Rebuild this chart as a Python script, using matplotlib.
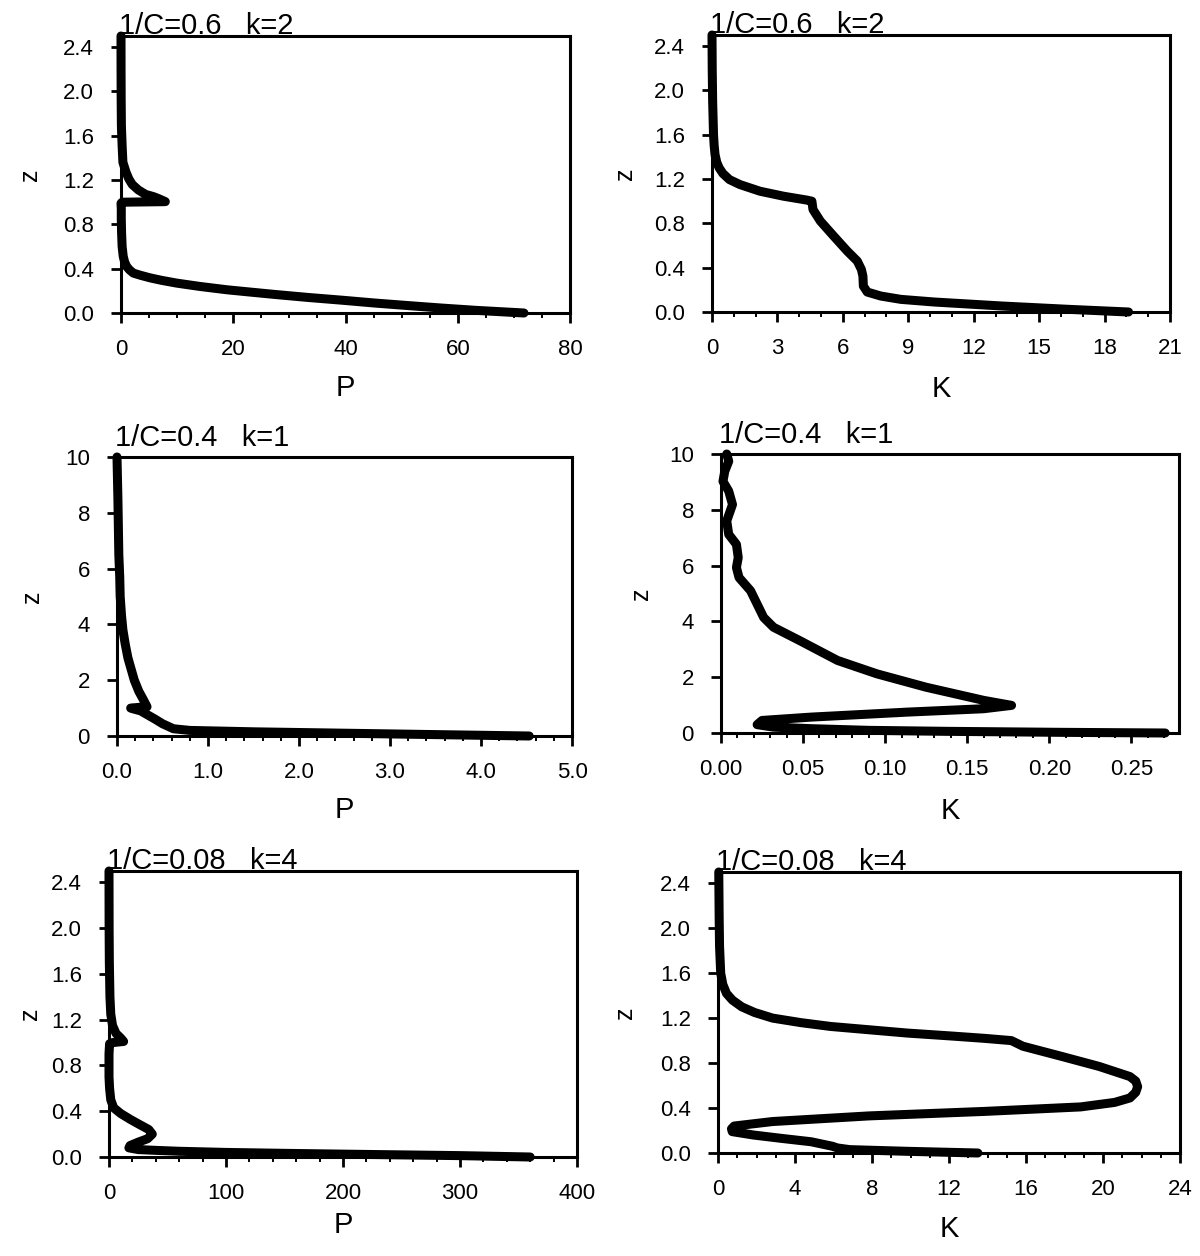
import matplotlib
matplotlib.use("Agg")
import matplotlib.pyplot as plt
from matplotlib.ticker import MultipleLocator, FormatStrFormatter

plt.rcParams['font.family'] = ['Liberation Sans', 'DejaVu Sans']

# ---------------- data ----------------
titles = ["1/C=0.6   k=2", "1/C=0.6   k=2", "1/C=0.4   k=1", "1/C=0.4   k=1",
          "1/C=0.08   k=4", "1/C=0.08   k=4"]
xlabels = ["P", "K", "P", "K", "P", "K"]

# panel 1: P, 1/C=0.6 k=2
z1 = [0, 0.024, 0.045, 0.066, 0.09, 0.115, 0.14, 0.166, 0.19, 0.21, 0.24, 0.27, 0.295,
      0.317, 0.34, 0.36, 0.39, 0.42, 0.46, 0.51, 0.6, 0.73, 0.85, 0.94, 0.99, 1.0,
      1.005, 1.03, 1.05, 1.07, 1.11, 1.16, 1.21, 1.27, 1.36, 1.51, 1.69, 1.93, 2.2, 2.5]
p1 = [71.8, 63.2, 57, 51.4, 45.2, 39.5, 33.4, 27.7, 22.8, 18.8, 14, 9.9, 7.2,
      5.2, 3.5, 2.2, 1.5, 1.0, 0.65, 0.4, 0.2, 0.1, 0.05, 0.05, 0.0, 0.2,
      7.9, 6.8, 5.8, 4.4, 3.1, 2.0, 1.4, 0.9, 0.34, 0.2, 0.07, 0.03, 0.01, 0.0]

# panel 2: K, 1/C=0.6 k=2
z2 = [0, 0.024, 0.054, 0.09, 0.114, 0.144, 0.18, 0.234, 0.324, 0.384, 0.46, 0.55,
      0.685, 0.82, 0.925, 1.0, 1.01, 1.045, 1.09, 1.15, 1.195, 1.25, 1.3, 1.35, 1.42,
      1.5, 1.6, 1.75, 1.9, 2.2, 2.5]
k2 = [19.1, 16.35, 13.3, 10.2, 8.66, 7.74, 7.12, 6.94, 6.92, 6.85, 6.66, 6.2,
      5.58, 4.97, 4.63, 4.58, 4.35, 3.28, 2.2, 1.28, 0.8, 0.5, 0.33, 0.22, 0.14,
      0.1, 0.07, 0.05, 0.03, 0.01, 0.0]

# panel 3: P, 1/C=0.4 k=1
z3 = [0, 0.05, 0.1, 0.15, 0.2, 0.26, 0.35, 0.44, 0.6, 0.75, 0.9, 0.98, 1.0, 1.05,
      1.3, 1.6, 2.0, 2.4, 2.8, 3.3, 3.8, 4.3, 5.0, 5.7, 6.5, 7.5, 8.5, 10]
p3 = [4.53, 3.5, 2.5, 1.5, 0.8, 0.62, 0.56, 0.5, 0.42, 0.34, 0.26, 0.17, 0.15, 0.33,
      0.29, 0.24, 0.19, 0.155, 0.12, 0.09, 0.065, 0.05, 0.035, 0.03, 0.02, 0.015, 0.01, 0.0]

# panel 4: K, 1/C=0.4 k=1
z4 = [0, 0.024, 0.06, 0.095, 0.155, 0.21, 0.3, 0.45, 0.57, 0.75, 0.87, 0.99, 1.17,
      1.64, 2.12, 2.6, 3.31, 3.79, 4.14, 4.62, 5.1, 5.57, 5.93, 6.29, 6.76, 7.12, 7.6,
      8.19, 8.67, 9.02, 9.38, 9.74, 10]
k4 = [0.2706, 0.207, 0.137, 0.090, 0.055, 0.032, 0.022, 0.025, 0.055, 0.114, 0.16,
      0.177, 0.16, 0.125, 0.095, 0.071, 0.048, 0.032, 0.026, 0.022, 0.018, 0.011,
      0.0094, 0.0105, 0.0094, 0.0047, 0.0035, 0.007, 0.0047, 0.0012, 0.0023, 0.0047, 0.0035]

# panel 5: P, 1/C=0.08 k=4
z5 = [0, 0.012, 0.025, 0.032, 0.04, 0.05, 0.058, 0.065, 0.08, 0.1, 0.13, 0.16, 0.2,
      0.24, 0.29, 0.33, 0.38, 0.43, 0.5, 0.6, 0.7, 0.9, 0.99, 1.0, 1.01, 1.04, 1.08,
      1.15, 1.25, 1.4, 1.7, 2.0, 2.5]
p5 = [360, 300, 200, 150, 100, 60, 40, 25, 17, 18, 25, 33, 37,
      34, 25, 18, 10, 4, 1.5, 0.5, 0, 0, 0.5, 3, 12.5, 10, 6,
      3, 1.5, 0.8, 0.3, 0.1, 0]

# panel 6: K, 1/C=0.08 k=4
z6 = [0, 0.015, 0.03, 0.045, 0.06, 0.1, 0.13, 0.16, 0.19, 0.215, 0.24, 0.28, 0.33,
      0.37, 0.41, 0.45, 0.49, 0.54, 0.59, 0.64, 0.68, 0.77, 0.86, 0.95, 1.0, 1.02,
      1.04, 1.067, 1.1, 1.126, 1.16, 1.2, 1.25, 1.3, 1.36, 1.42, 1.5, 1.6, 1.84, 2.1, 2.5]
k6 = [13.5, 9.84, 6.84, 6.2, 5.94, 4.84, 3.3, 1.84, 0.74, 0.7, 0.84, 2.84, 7.84,
      13.84, 18.84, 20.6, 21.4, 21.7, 21.8, 21.7, 21.4, 19.8, 17.84, 15.84, 15.24, 13.84,
      12.2, 9.84, 7.6, 5.84, 4.3, 2.84, 1.9, 1.24, 0.75, 0.44, 0.25, 0.14, 0.08, 0.06, 0.04]

xs = [p1, k2, p3, k4, p5, k6]
zs = [z1, z2, z3, z4, z5, z6]

# ---------------- layout ----------------
W, H = 1200, 1256
boxes = [(121, 570, 36, 313), (712, 1170, 35, 312),
         (117, 572, 457, 736), (721, 1179, 454, 733),
         (109, 577, 871, 1157), (718, 1180, 872, 1153)]
zlabel_x = [30, 625, 32, 641, 30, 625]
xlabel_y = [388, 389, 810, 811, 1225, 1229]
xlims = [(0, 80), (0, 21), (0, 5), (0, 0.279), (0, 400), (0, 24)]
ylims = [(0, 2.5), (0, 2.5), (0, 10), (0, 10), (0, 2.5), (0, 2.5)]
xmaj = [20, 3, 1, 0.05, 100, 4]
xmin = [5, 1, 0.2, 0.01, 20, 1]
xfmt = ["%d", "%d", "%.1f", "%.2f", "%d", "%d"]
ymaj = [0.4, 0.4, 2, 2, 0.4, 0.4]
yfmt = ["%.1f", "%.1f", "%d", "%d", "%.1f", "%.1f"]
title_gap = [1.5, 1.5, 8, 8, 1.2, 1.2]

fig = plt.figure(figsize=(W / 100, H / 100), dpi=100)

for i in range(6):
    l, r, t, b = boxes[i]
    ax = fig.add_axes([l / W, 1 - b / H, (r - l) / W, (b - t) / H])
    ax.plot(xs[i], zs[i], color='black', lw=6.5, solid_capstyle='round',
            solid_joinstyle='round', clip_on=False, zorder=3)
    ax.set_xlim(*xlims[i])
    ax.set_ylim(*ylims[i])
    ax.xaxis.set_major_locator(MultipleLocator(xmaj[i]))
    ax.xaxis.set_minor_locator(MultipleLocator(xmin[i]))
    ax.xaxis.set_major_formatter(FormatStrFormatter(xfmt[i]))
    ax.yaxis.set_major_locator(MultipleLocator(ymaj[i]))
    ax.yaxis.set_major_formatter(FormatStrFormatter(yfmt[i]))
    ax.tick_params(axis='both', which='major', direction='out', length=7.5, width=2,
                   labelsize=16, colors='black')
    ax.tick_params(axis='x', which='major', pad=11)
    ax.tick_params(axis='y', which='major', pad=12)
    ax.tick_params(axis='x', which='minor', direction='out', length=3.5, width=1.4)
    for s in ax.spines.values():
        s.set_linewidth(2.2)
    ax.set_xlabel(xlabels[i], fontsize=21, va='center')
    ax.xaxis.set_label_coords(0.5, -(xlabel_y[i] - b) / (b - t))
    ax.set_ylabel("z", fontsize=18, va='center')
    ax.yaxis.set_label_coords((zlabel_x[i] - l) / (r - l), 0.5)
    ax.annotate(titles[i], xy=(0, 1), xycoords='axes fraction',
                xytext=(-1.5, title_gap[i]), textcoords='offset points',
                ha='left', va='baseline', fontsize=21)

fig.savefig("out.png", dpi=100)
